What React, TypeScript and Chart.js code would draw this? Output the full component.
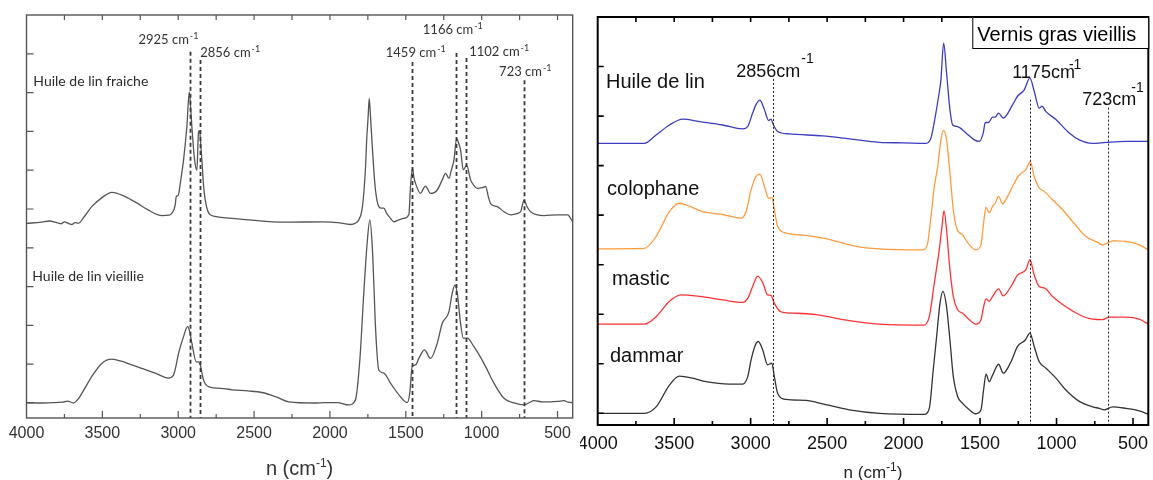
import React, { useEffect, useRef } from "react";
import { Chart, registerables } from "chart.js";
Chart.register(...registerables);

// ---------- LEFT PANEL DATA (Huile de lin fraiche / vieillie) ----------
const fraicheWn = [4000, 3900, 3850, 3800, 3770, 3750, 3720, 3700, 3680, 3658, 3620, 3570, 3500, 3438, 3350, 3270, 3196, 3108, 3060, 3042, 3020, 3013, 3000, 2985, 2965, 2943, 2927, 2918, 2910, 2893, 2877, 2866, 2859, 2852, 2844, 2833, 2822, 2805, 2789, 2700, 2536, 2300, 2041, 1950, 1865, 1830, 1810, 1790, 1777, 1765, 1759, 1748, 1741, 1733, 1721, 1710, 1700, 1678, 1660, 1645, 1625, 1601, 1579, 1545, 1513, 1480, 1469, 1456, 1446, 1436, 1403, 1385, 1370, 1337, 1293, 1260, 1238, 1216, 1200, 1183, 1165, 1152, 1139, 1121, 1099, 1073, 1050, 1029, 995, 974, 955, 941, 897, 853, 809, 770, 743, 721, 700, 677, 589, 500, 434, 400];
const fraicheAbs = [4.63, 4.66, 4.69, 4.65, 4.62, 4.67, 4.62, 4.60, 4.65, 4.63, 4.80, 5.06, 5.30, 5.43, 5.32, 5.15, 4.97, 4.83, 4.84, 4.89, 5.10, 5.32, 5.35, 5.70, 6.26, 7.12, 8.02, 7.60, 7.12, 6.30, 6.00, 6.99, 7.02, 6.70, 6.26, 5.60, 5.23, 4.95, 4.85, 4.78, 4.72, 4.66, 4.67, 4.65, 4.60, 4.64, 4.72, 4.95, 5.40, 6.10, 6.69, 7.40, 7.85, 7.40, 6.61, 5.95, 5.49, 5.06, 5.02, 5.02, 4.88, 4.76, 4.67, 4.72, 4.76, 4.85, 5.58, 6.05, 5.80, 5.66, 5.40, 5.52, 5.59, 5.40, 5.49, 5.75, 5.92, 5.79, 6.00, 6.26, 6.82, 6.70, 6.52, 6.01, 6.13, 5.75, 5.60, 5.53, 5.55, 5.58, 5.30, 5.14, 5.06, 4.93, 4.85, 4.88, 4.93, 5.23, 5.05, 4.93, 4.83, 4.85, 4.85, 4.67];

const vieillieWn = [4000, 3900, 3760, 3730, 3691, 3658, 3620, 3570, 3504, 3438, 3370, 3306, 3230, 3152, 3064, 3031, 3015, 2998, 2965, 2939, 2925, 2910, 2881, 2866, 2855, 2833, 2800, 2700, 2646, 2540, 2448, 2350, 2272, 2096, 2041, 1950, 1876, 1832, 1803, 1777, 1755, 1737, 1721, 1710, 1700, 1678, 1645, 1601, 1535, 1491, 1474, 1458, 1436, 1414, 1377, 1337, 1293, 1260, 1216, 1194, 1177, 1161, 1139, 1121, 1095, 1051, 985, 919, 853, 787, 721, 690, 655, 600, 545, 500, 457, 430, 400];
const vieillieAbs = [0.01, 0.00, 0.02, 0.05, 0.00, 0.11, 0.35, 0.68, 1.02, 1.13, 1.07, 0.98, 0.88, 0.77, 0.64, 0.72, 0.95, 1.28, 1.71, 1.97, 1.85, 1.54, 1.06, 1.06, 0.98, 0.59, 0.42, 0.37, 0.34, 0.31, 0.27, 0.15, 0.03, 0.00, 0.01, 0.01, -0.05, 0.08, 1.11, 2.83, 4.11, 4.72, 4.03, 3.00, 1.97, 0.85, 0.77, 0.51, 0.16, 0.01, 0.25, 0.94, 0.98, 1.15, 1.37, 1.15, 1.54, 2.05, 2.35, 2.83, 3.04, 2.83, 2.05, 1.67, 1.67, 1.45, 1.02, 0.51, 0.12, 0.00, -0.05, 0.00, 0.06, 0.03, 0.03, 0.04, 0.06, 0.02, 0.01];

const leftPeakLines = [2925, 2856, 1459, 1166, 1102, 723];
const leftPeakLineTops = [9.05, 8.84, 8.79, 9.02, 8.89, 8.32];
const leftPeakLabels = ["2925 cm", "2856 cm", "1459 cm", "1166 cm", "1102 cm", "723 cm"];
const leftPeakLabelWn = [3262, 2855, 1632, 1388, 1082, 885];
const leftPeakLabelY = [9.25, 8.92, 8.92, 9.51, 8.94, 8.43];
const leftYTicks = [0, 1, 2, 3, 4, 5, 6, 7, 8, 9];

// ---------- RIGHT PANEL DATA (Vernis gras vieillis) ----------
const lineWn = [4000, 3800, 3695, 3618, 3531, 3444, 3335, 3183, 3052, 3019, 2987, 2965, 2939, 2925, 2910, 2882, 2867, 2851, 2823, 2747, 2529, 2355, 2159, 2000, 1854, 1821, 1793, 1771, 1756, 1738, 1719, 1697, 1679, 1651, 1592, 1538, 1505, 1479, 1466, 1444, 1418, 1401, 1379, 1348, 1287, 1255, 1211, 1174, 1146, 1113, 1095, 1069, 1004, 917, 851, 764, 677, 546, 405, 400];
const lineAbs = [5.45, 5.45, 5.45, 5.62, 5.82, 5.94, 5.89, 5.82, 5.74, 5.79, 6.06, 6.23, 6.32, 6.25, 6.13, 5.91, 5.94, 5.82, 5.69, 5.64, 5.60, 5.54, 5.47, 5.46, 5.45, 5.56, 5.99, 6.40, 6.73, 7.47, 6.87, 6.13, 5.82, 5.79, 5.66, 5.52, 5.49, 5.66, 5.87, 5.87, 5.98, 5.98, 6.06, 5.96, 6.23, 6.40, 6.53, 6.77, 6.50, 6.16, 6.20, 6.09, 5.93, 5.66, 5.52, 5.45, 5.47, 5.49, 5.49, 5.49];

const colophaneWn = [4000, 3695, 3618, 3531, 3466, 3401, 3313, 3183, 3063, 3030, 2997, 2965, 2939, 2910, 2882, 2860, 2845, 2823, 2769, 2638, 2529, 2311, 2159, 1875, 1843, 1821, 1799, 1777, 1756, 1740, 1719, 1697, 1675, 1653, 1614, 1570, 1527, 1494, 1477, 1461, 1440, 1418, 1401, 1379, 1353, 1320, 1276, 1243, 1200, 1172, 1146, 1113, 1080, 1026, 960, 895, 808, 731, 699, 633, 546, 459, 400];
const colophaneAbs = [3.32, 3.33, 3.57, 4.07, 4.24, 4.18, 4.07, 4.01, 3.94, 4.07, 4.51, 4.78, 4.83, 4.58, 4.34, 4.36, 4.11, 3.77, 3.64, 3.59, 3.54, 3.37, 3.32, 3.30, 3.43, 3.97, 4.58, 4.98, 5.52, 5.71, 5.52, 4.85, 4.11, 3.74, 3.60, 3.40, 3.30, 3.40, 3.84, 4.16, 4.05, 4.18, 4.24, 4.38, 4.23, 4.38, 4.65, 4.81, 4.92, 5.08, 4.78, 4.55, 4.48, 4.31, 4.11, 3.87, 3.57, 3.45, 3.40, 3.48, 3.47, 3.40, 3.30];

const masticWn = [4000, 3695, 3618, 3531, 3455, 3335, 3183, 3052, 3019, 2987, 2954, 2921, 2889, 2867, 2845, 2801, 2703, 2572, 2355, 2159, 1865, 1832, 1799, 1767, 1749, 1736, 1719, 1697, 1675, 1647, 1614, 1570, 1527, 1494, 1477, 1461, 1440, 1418, 1379, 1348, 1298, 1255, 1200, 1174, 1146, 1113, 1080, 1026, 939, 851, 764, 699, 655, 546, 459, 400];
const masticAbs = [1.80, 1.80, 1.95, 2.26, 2.39, 2.36, 2.29, 2.24, 2.32, 2.56, 2.77, 2.64, 2.39, 2.38, 2.22, 2.05, 2.02, 1.99, 1.87, 1.80, 1.78, 1.95, 2.63, 3.30, 3.77, 4.09, 3.70, 2.90, 2.36, 2.09, 2.02, 1.89, 1.80, 1.89, 2.15, 2.31, 2.26, 2.36, 2.51, 2.37, 2.56, 2.79, 2.90, 3.10, 2.79, 2.56, 2.53, 2.36, 2.15, 1.99, 1.90, 1.89, 1.94, 1.94, 1.90, 1.80];

const dammarWn = [4000, 3695, 3618, 3531, 3466, 3379, 3292, 3139, 3052, 3019, 2997, 2969, 2950, 2921, 2889, 2862, 2845, 2823, 2769, 2638, 2529, 2355, 2159, 1865, 1832, 1806, 1784, 1762, 1743, 1719, 1697, 1675, 1647, 1614, 1570, 1527, 1494, 1477, 1461, 1440, 1418, 1379, 1348, 1298, 1255, 1204, 1174, 1146, 1113, 1069, 1004, 939, 851, 764, 721, 688, 633, 546, 459, 400];
const dammarAbs = [0, 0, 0.13, 0.57, 0.75, 0.71, 0.64, 0.59, 0.59, 0.74, 1.08, 1.38, 1.45, 1.28, 0.98, 1.01, 0.74, 0.40, 0.28, 0.26, 0.19, 0.07, 0, -0.02, 0.10, 0.88, 1.55, 2.22, 2.46, 2.15, 1.48, 0.74, 0.34, 0.20, 0.07, -0.01, 0.07, 0.47, 0.79, 0.64, 0.77, 0.99, 0.81, 1.04, 1.35, 1.48, 1.62, 1.35, 1.04, 0.91, 0.71, 0.47, 0.24, 0.13, 0.10, 0.07, 0.13, 0.10, 0.05, -0.02];

const rightPeakLines = [2856, 1175, 665];
const rightPeakLineTops = [6.75, 6.33, 6.17];
const rightPeakLabels = ["2856cm", "1175cm", "723cm"];
const rightPeakLabelWn = [3094, 1290, 832];
const rightPeakLabelY = [6.79, 6.77, 6.23];
const rightSeriesNames = ["Huile de lin", "colophane", "mastic", "dammar"];
const rightSeriesNameWn = [3946, 3939, 3907, 3920];
const rightSeriesNameY = [6.57, 4.40, 2.59, 1.04];
const rightYTicks = [0, 1, 2, 3, 4, 5, 6, 7];

const xTickValues = [4000, 3500, 3000, 2500, 2000, 1500, 1000, 500];

const pts = (wn: number[], ab: number[]) => wn.map((w, i) => ({ x: w, y: ab[i] }));

function drawSup(ctx: CanvasRenderingContext2D, x: number, y: number, main: string, sup: string, tail: string, font: string, supFont: string, supDx: number, raise: number, align: string) {
  ctx.font = font;
  const wMain = ctx.measureText(main).width;
  const wTail = tail ? ctx.measureText(tail).width : 0;
  ctx.font = supFont;
  const wSup = ctx.measureText(sup).width;
  let x0 = x;
  if (align === "center") x0 = x - (wMain + supDx + wSup + wTail) / 2;
  ctx.textAlign = "left";
  ctx.textBaseline = "alphabetic";
  ctx.font = font;
  ctx.fillText(main, x0, y);
  ctx.font = supFont;
  ctx.fillText(sup, x0 + wMain + supDx, y - raise);
  if (tail) {
    ctx.font = font;
    ctx.fillText(tail, x0 + wMain + supDx + wSup, y);
  }
}

const framePlugin = {
  id: "frame",
  afterDatasetsDraw(chart: any, _args: any, o: any) {
    const { ctx, chartArea: a } = chart;
    const xs = chart.scales.x;
    const ys = chart.scales.y;
    ctx.save();
    // vertical marker lines
    ctx.strokeStyle = o.markColor;
    ctx.lineWidth = o.markWidth;
    ctx.setLineDash(o.markDash);
    o.lines.forEach((wn: number, i: number) => {
      const px = Math.round(xs.getPixelForValue(wn)) + 0.5;
      ctx.beginPath();
      ctx.moveTo(px, ys.getPixelForValue(o.lineTops[i]));
      ctx.lineTo(px, a.bottom);
      ctx.stroke();
    });
    ctx.setLineDash([]);
    // frame
    ctx.strokeStyle = o.color;
    ctx.lineWidth = o.lw;
    ctx.strokeRect(a.left, a.top, a.right - a.left, a.bottom - a.top);
    ctx.lineWidth = o.tickW;
    ctx.beginPath();
    for (let v = 500; v < 4000; v += 250) {
      const px = xs.getPixelForValue(v);
      const len = v % 500 === 0 ? o.bMaj : o.bMin;
      ctx.moveTo(px, a.bottom);
      ctx.lineTo(px, a.bottom - len);
      ctx.moveTo(px, a.top);
      ctx.lineTo(px, a.top + o.topLen);
    }
    o.yTicks.forEach((t: number) => {
      const py = ys.getPixelForValue(t);
      ctx.moveTo(a.left, py);
      ctx.lineTo(a.left + o.leftLen, py);
    });
    ctx.stroke();
    // texts
    ctx.fillStyle = o.textColor;
    o.labels.forEach((t: string, i: number) => {
      drawSup(ctx, xs.getPixelForValue(o.labelWn[i]), ys.getPixelForValue(o.labelY[i]), t, "-1", "", o.labelFont, o.supFont, o.supDx[i], o.supRaise[i], "left");
    });
    ctx.fillStyle = o.nameColor;
    o.names.forEach((t: string, i: number) => {
      ctx.font = o.nameFont;
      ctx.textAlign = "left";
      ctx.textBaseline = "alphabetic";
      ctx.fillText(t, xs.getPixelForValue(o.nameWn[i]), ys.getPixelForValue(o.nameY[i]));
    });
    // axis title
    ctx.fillStyle = o.titleColor;
    drawSup(ctx, (a.left + a.right) / 2 + o.titleDx, a.bottom + o.titleDy, "n (cm", "-1", ")", o.titleFont, o.titleSupFont, 0, o.titleRaise, "center");
    // box
    if (o.box) {
      ctx.strokeStyle = "#000";
      ctx.lineWidth = 1;
      const bx = a.right - o.box.w;
      ctx.fillStyle = "#fff";
      ctx.fillRect(bx, a.top, o.box.w, o.box.h);
      ctx.strokeRect(bx + 0.5, a.top + 0.5, o.box.w, o.box.h);
      ctx.fillStyle = "#000";
      ctx.font = o.box.font;
      ctx.textAlign = "left";
      ctx.textBaseline = "alphabetic";
      ctx.fillText(o.box.text, bx + 5, a.top + o.box.base);
    }
    ctx.restore();
  },
};

function lineDs(data: any, color: string, width: number) {
  return { data, borderColor: color, borderWidth: width, pointRadius: 0, fill: false, cubicInterpolationMode: "monotone" as const };
}

function xScale(color: string, size: number, padding: number): any {
  return {
    type: "linear", reverse: true, min: 400, max: 4000,
    grid: { display: false, drawTicks: false }, border: { display: false },
    afterBuildTicks: (s: any) => { s.ticks = xTickValues.map((v) => ({ value: v })); },
    ticks: { padding, color, font: { family: "'Liberation Sans'", size }, maxRotation: 0, autoSkip: false, callback: (v: any) => String(v) },
    afterFit: (s: any) => { s.height = 30; s.paddingLeft = 0; s.paddingRight = 0; },
  };
}

function leftConfig(): any {
  return {
    type: "line",
    data: {
      datasets: [
        lineDs(pts(fraicheWn, fraicheAbs), "#555", 1.3),
        lineDs(pts(vieillieWn, vieillieAbs), "#555", 1.3),
      ],
    },
    options: {
      animation: false,
      responsive: false,
      devicePixelRatio: 1,
      layout: { padding: { left: 26.5, right: 7.3, top: 15, bottom: 32 } },
      plugins: {
        legend: { display: false },
        tooltip: { enabled: false },
        frame: {
          color: "#555", lw: 1.4, tickW: 1.2, bMaj: 7, bMin: 4, topLen: 5, leftLen: 7, yTicks: leftYTicks,
          markColor: "#3a3a3a", markWidth: 1.8, markDash: [4, 3],
          lines: leftPeakLines, lineTops: leftPeakLineTops,
          labels: leftPeakLabels, labelWn: leftPeakLabelWn, labelY: leftPeakLabelY,
          labelFont: "13px Lato", supFont: "9px Lato", supDx: [1, 1, 1, 1, 1, 1], supRaise: [5, 5, 5, 5, 5, 5],
          textColor: "#333",
          names: ["Huile de lin fraiche", "Huile de lin vieillie"], nameWn: [3955, 3962], nameY: [8.17, 3.15],
          nameFont: "14px Lato", nameColor: "#2a2a2a",
          titleColor: "#333", titleFont: "20px 'Liberation Sans'", titleSupFont: "12px 'Liberation Sans'", titleRaise: 8, titleDx: 0, titleDy: 57,
        },
      },
      scales: {
        x: xScale("#333", 16, 6),
        y: { display: false, min: -0.387, max: 10.0 },
      },
    },
    plugins: [framePlugin],
  };
}

function rightConfig(): any {
  return {
    type: "line",
    data: {
      datasets: [
        lineDs(pts(lineWn, lineAbs), "#3c3cc0", 1.3),
        lineDs(pts(colophaneWn, colophaneAbs), "#ff9a3c", 1.3),
        lineDs(pts(masticWn, masticAbs), "#ff3333", 1.3),
        lineDs(pts(dammarWn, dammarAbs), "#333333", 1.3),
      ],
    },
    options: {
      animation: false,
      responsive: false,
      devicePixelRatio: 1,
      layout: { padding: { left: 17.7, right: 4.7, top: 17, bottom: 25 } },
      plugins: {
        legend: { display: false },
        tooltip: { enabled: false },
        frame: {
          color: "#000", lw: 2, tickW: 1.6, bMaj: 7, bMin: 4, topLen: 5, leftLen: 6, yTicks: rightYTicks,
          markColor: "#222", markWidth: 1, markDash: [2, 2],
          lines: rightPeakLines, lineTops: rightPeakLineTops,
          labels: rightPeakLabels, labelWn: rightPeakLabelWn, labelY: rightPeakLabelY,
          labelFont: "18px 'Liberation Sans'", supFont: "14px 'Liberation Sans'", supDx: [1, -6, -5], supRaise: [14, 9, 13],
          textColor: "#111",
          names: rightSeriesNames, nameWn: rightSeriesNameWn, nameY: rightSeriesNameY,
          nameFont: "20px 'Liberation Sans'", nameColor: "#111",
          titleColor: "#222", titleFont: "17px 'Liberation Sans'", titleSupFont: "12px 'Liberation Sans'", titleRaise: 7, titleDx: 0, titleDy: 53,
          box: { w: 176, h: 31, text: "Vernis gras vieillis", font: "20px 'Liberation Sans'", base: 24 },
        },
      },
      scales: {
        x: xScale("#111", 18, 8),
        y: { display: false, min: -0.236, max: 8.0 },
      },
    },
    plugins: [framePlugin],
  };
}

function Panel({ config, left, width }: { config: () => any; left: number; width: number }) {
  const ref = useRef<HTMLCanvasElement>(null);
  useEffect(() => {
    const chart = new Chart(ref.current as HTMLCanvasElement, config());
    return () => chart.destroy();
  }, []);
  return <canvas ref={ref} width={width} height={480} style={{ position: "absolute", left, top: 0, width, height: 480 }} />;
}

export default function App() {
  return (
    <div style={{ position: "fixed", left: 0, top: 0, width: 1153, height: 480, background: "#fff" }}>
      <Panel config={leftConfig} left={0} width={580} />
      <Panel config={rightConfig} left={580} width={573} />
    </div>
  );
}
